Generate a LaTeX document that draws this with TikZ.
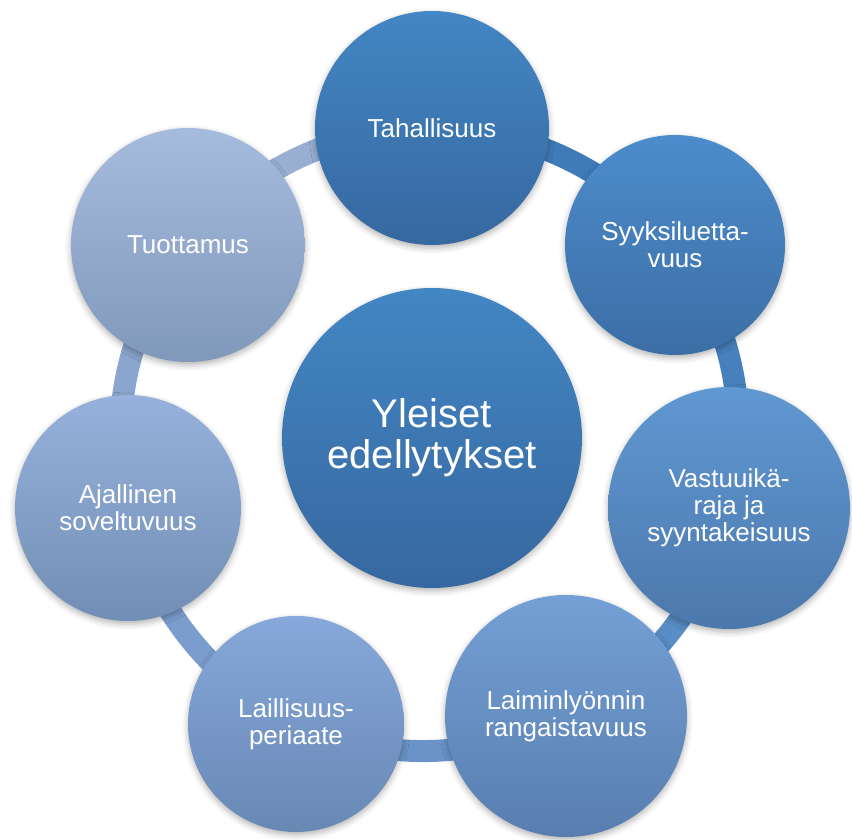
\documentclass[tikz,border=0pt]{standalone}
\usepackage{fontspec}
\setmainfont{Liberation Sans}
\usetikzlibrary{backgrounds,shadows.blur}

\definecolor{cyc1a}{RGB}{66,134,196}
\definecolor{cyc1b}{RGB}{55,104,160}
\definecolor{cyc2a}{RGB}{76,140,204}
\definecolor{cyc2b}{RGB}{60,110,165}
\definecolor{cyc3a}{RGB}{96,152,210}
\definecolor{cyc3b}{RGB}{76,120,172}
\definecolor{cyc4a}{RGB}{116,160,214}
\definecolor{cyc4b}{RGB}{88,126,175}
\definecolor{cyc5a}{RGB}{134,168,218}
\definecolor{cyc5b}{RGB}{104,136,180}
\definecolor{cyc6a}{RGB}{150,178,220}
\definecolor{cyc6b}{RGB}{115,142,180}
\definecolor{cyc7a}{RGB}{166,188,222}
\definecolor{cyc7b}{RGB}{128,152,186}

\begin{document}
\begin{tikzpicture}[x=1pt, y=1pt]

      \tikzset{
        bubble/.style={
          circle,
          inner sep=0pt,
          align=center,
          text=white,
          font=\fontsize{26}{27}\selectfont,
          blur shadow={shadow xshift=0pt, shadow yshift=-3pt, shadow blur radius=6pt, shadow opacity=30},
        },
        ring part/.style={
          line width=22pt,
          looseness=0.9,
        },
      }

      \useasboundingbox (-432,-401) rectangle (420,439);

      \node[bubble, minimum size=300pt, top color=cyc1a, bottom color=cyc1b,
        font=\fontsize{40}{41}\selectfont] (hub) at (0,1) {Yleiset\\edellytykset};

      \foreach \i/\x/\y/\dia/\txt in {
          1/0/311/234/Tahallisuus,
          2/243/194/220/Syyksiluetta-\\vuus,
          3/297/-69/242/Vastuuikä-\\raja ja\\syyntakeisuus,
          4/134/-277/242/Laiminlyönnin\\rangaistavuus,
          5/-136/-285/216/Laillisuus-\\periaate,
          6/-304/-69/226/Ajallinen\\soveltuvuus,
          7/-244/194/234/Tuottamus} {
        \node[bubble, minimum size=\dia pt, top color=cyc\i a, bottom color=cyc\i b] (b\i) at (\x,\y) {\txt};
      }

      \begin{pgfonlayer}{background}
        \foreach \i/\j in {1/2,2/3,3/4,4/5,5/6,6/7,7/1} {
          \draw[ring part, draw=cyc\i a!65!cyc\i b] (b\i.center) to[bend left=25.7] (b\j.center);
        }
      \end{pgfonlayer}

    \end{tikzpicture}
\end{document}
